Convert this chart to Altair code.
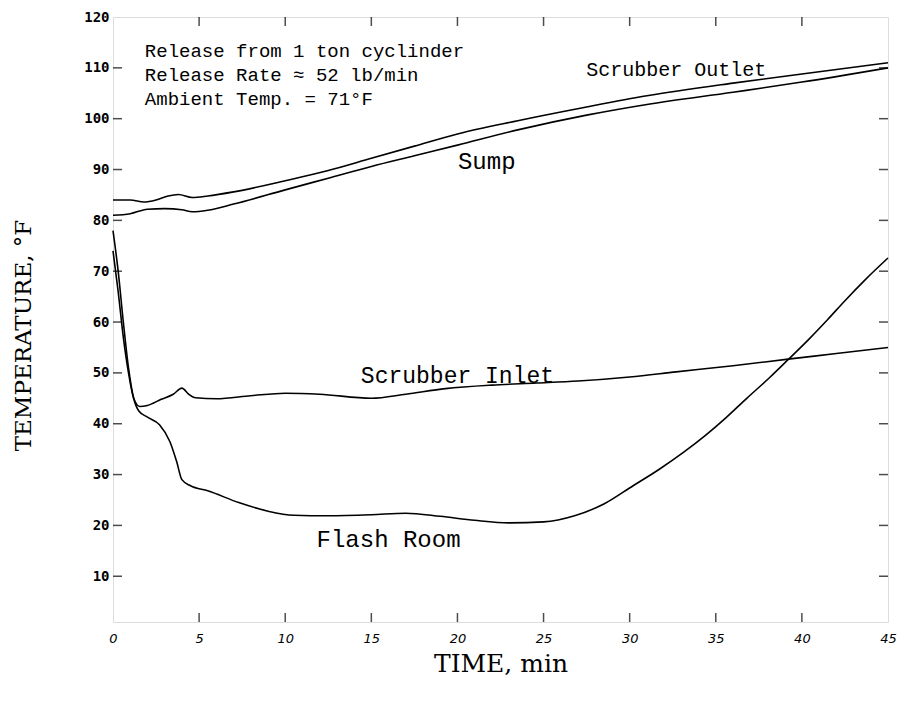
import altair as alt
import pandas as pd

# ---- data ----
outlet_t = [0, 1, 1.8, 2.5, 3.2, 3.8, 4.6, 5.5, 7, 10, 12.5, 15, 17.5, 20, 23.5, 27.5, 31, 36, 40, 45]
outlet_v = [84.0, 84.0, 83.6, 84.0, 84.8, 85.1, 84.5, 84.8, 85.6, 87.8, 89.8, 92.2, 94.6, 97.0, 99.6, 102.3, 104.5, 107.0, 108.8, 111.0]

sump_t = [0, 1, 2, 3, 4, 4.6, 5.5, 7, 10, 12.5, 15, 17.5, 20, 23.5, 27.5, 31, 36, 40, 45]
sump_v = [81.0, 81.3, 82.2, 82.3, 82.1, 81.7, 82.0, 83.2, 86.0, 88.3, 90.6, 92.7, 94.8, 97.8, 100.7, 102.8, 105.2, 107.2, 110.0]

inlet_t = [0, 0.3, 0.6, 0.9, 1.2, 1.55, 2, 2.8, 3.5, 4.0, 4.4, 4.8, 6, 8, 10, 12, 15, 17, 19.3, 22, 24.6, 27, 30, 32.7, 36, 39.2, 42, 45]
inlet_v = [74, 66, 57, 50, 45, 43.4, 43.6, 44.8, 45.8, 47.0, 45.8, 45.1, 44.9, 45.5, 46.0, 45.8, 45.0, 45.8, 46.9, 47.6, 48.0, 48.4, 49.2, 50.2, 51.4, 52.7, 53.8, 55.0]

flash_t = [0, 0.3, 0.6, 0.9, 1.2, 1.5, 2, 2.7, 3.3, 3.7, 4.0, 4.5, 5.5, 7.3, 9, 10.5, 12.5, 15, 17, 19, 21, 23, 25, 26.8, 28.5, 30.2, 31.7, 33.1, 34.4, 35.6, 36.8, 38.1, 39.2, 40.4, 41.5, 42.5, 43.7, 45]
flash_v = [78, 70, 60, 51, 45, 42.5, 41.3, 39.8, 36.5, 32.5, 29.0, 27.8, 26.8, 24.5, 22.8, 22.0, 21.9, 22.1, 22.4, 21.8, 21.0, 20.5, 20.7, 21.9, 24.2, 27.8, 31.0, 34.3, 37.7, 41.2, 45.0, 49.0, 52.6, 56.6, 60.5, 64.2, 68.4, 72.6]

series_names = ["Scrubber Outlet", "Sump", "Scrubber Inlet", "Flash Room"]

x_ticks = [0, 5, 10, 15, 20, 25, 30, 35, 40, 45]
y_ticks = [10, 20, 30, 40, 50, 60, 70, 80, 90, 100, 110, 120]
x_inner_ticks = [5, 10, 15, 20, 25, 30, 35, 40]
y_inner_ticks = [10, 20, 30, 40, 50, 60, 70, 80, 90, 100, 110]

label_text = ["Scrubber Outlet", "Sump", "Scrubber Inlet", "Flash Room"]
label_t = [32.7, 21.7, 20.0, 16.0]
label_v = [109.6, 91.4, 49.3, 17.1]
label_sizes = [20, 24, 23, 24]

note_lines = ["Release from 1 ton cyclinder", "Release Rate \u2248 52 lb/min", "Ambient Temp. = 71\u00b0F"]
note_t = 1.85
note_v = 113.3

# ---- build tables ----
rows = []
for name, ts, vs in zip(series_names, [outlet_t, sump_t, inlet_t, flash_t], [outlet_v, sump_v, inlet_v, flash_v]):
    for t, v in zip(ts, vs):
        rows.append({"series": name, "t": t, "v": v})
df = pd.DataFrame(rows)
note_df = pd.DataFrame({"t": [note_t], "v": [note_v]})
xt_df = pd.DataFrame({"t": x_inner_ticks})
yt_df = pd.DataFrame({"v": y_inner_ticks})

W, H = 775, 605
xscale = alt.Scale(domain=[0, 45], nice=False, zero=False)
yscale = alt.Scale(domain=[1, 120], nice=False, zero=False)

x_axis = alt.Axis(values=x_ticks, tickSize=0, domain=False, grid=False, labelFlush=False,
                  labelFont="DejaVu Sans", labelFontStyle="italic", labelFontSize=13,
                  labelPadding=10, labelColor="black",
                  title="TIME, min", titleFont="DejaVu Serif", titleFontSize=25,
                  titleFontWeight="normal", titleColor="black",
                  titleX=W / 2, titleY=41, titleBaseline="middle", titleAlign="center")
y_axis = alt.Axis(values=y_ticks, tickSize=0, domain=False, grid=False, labelFlush=False,
                  labelFont="DejaVu Sans Mono", labelFontWeight="bold", labelFontSize=14,
                  labelPadding=4, labelColor="black",
                  title="TEMPERATURE, \u00b0F", titleFont="DejaVu Serif", titleFontSize=23,
                  titleFontWeight="normal", titleColor="black", titleAngle=-90,
                  titleX=-90, titleY=318, titleBaseline="middle", titleAlign="center")

lines = alt.Chart(df).mark_line(color="black", strokeWidth=1.6, interpolate="monotone").encode(
    x=alt.X("t:Q", scale=xscale, axis=x_axis),
    y=alt.Y("v:Q", scale=yscale, axis=y_axis),
    detail="series:N",
    order="t:Q",
)

label_layers = []
for txt, t, v, fs in zip(label_text, label_t, label_v, label_sizes):
    ldf = pd.DataFrame({"text": [txt], "t": [t], "v": [v]})
    label_layers.append(
        alt.Chart(ldf).mark_text(font="Liberation Mono", fontSize=fs, color="black",
                                 align="center", baseline="middle").encode(
            x=alt.X("t:Q", scale=xscale), y=alt.Y("v:Q", scale=yscale), text="text:N"))

note = alt.Chart(note_df).mark_text(font="Liberation Mono", fontSize=19, color="black",
                                    align="left", baseline="middle", lineHeight=24,
                                    text=note_lines).encode(
    x=alt.X("t:Q", scale=xscale), y=alt.Y("v:Q", scale=yscale))

tk = dict(color="black", thickness=1.5, size=9)
bot = alt.Chart(xt_df).mark_tick(orient="vertical", **tk).encode(
    x=alt.X("t:Q", scale=xscale), y=alt.value(H - 4.5))
top = alt.Chart(xt_df).mark_tick(orient="vertical", **tk).encode(
    x=alt.X("t:Q", scale=xscale), y=alt.value(4.5))
left = alt.Chart(yt_df).mark_tick(orient="horizontal", **tk).encode(
    y=alt.Y("v:Q", scale=yscale), x=alt.value(4.5))
right = alt.Chart(yt_df).mark_tick(orient="horizontal", **tk).encode(
    y=alt.Y("v:Q", scale=yscale), x=alt.value(W - 4.5))

chart = alt.layer(lines, bot, top, left, right, note, *label_layers).properties(
    width=W, height=H,
    autosize=alt.AutoSizeParams(type="none"),
    padding={"left": 105, "top": 9, "right": 10, "bottom": 75},
).configure_view(stroke="black", strokeWidth=1.8).configure(background="white")

chart.save("out.html", embed_options={"renderer": "svg", "actions": False})
